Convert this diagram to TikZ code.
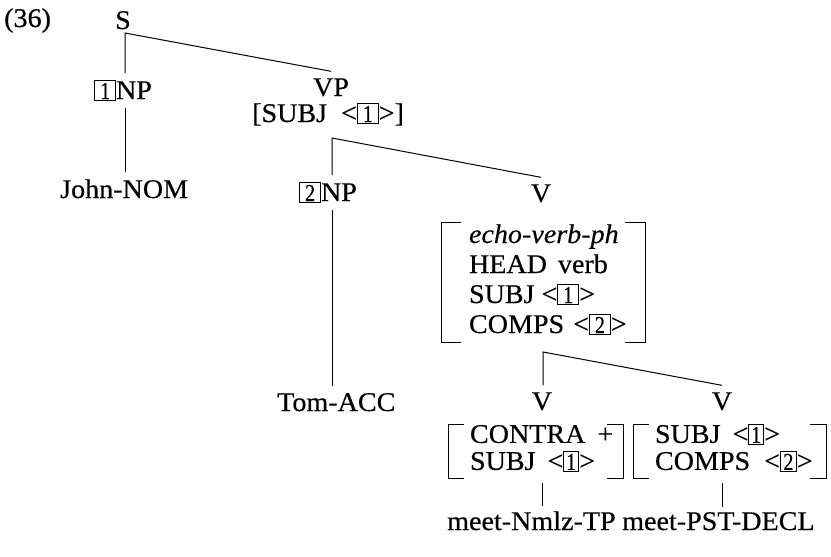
\documentclass[tikz,border=0pt]{standalone}
\usepackage{fontspec}
\setmainfont[FakeStretch=1.04,FakeBold=0.4]{Liberation Serif}
\usepackage{graphicx}
\usepackage{array}
\usetikzlibrary{calc}

% boxed structure-sharing tag
\newcommand{\tagbox}[2][20pt]{{\setlength{\fboxsep}{0pt}\setlength{\fboxrule}{0.9pt}%
  \raisebox{-1pt}{\fbox{\makebox[#1]{\rule{0pt}{19pt}\raisebox{1pt}{\scalebox{0.72}[0.9]{#2}}}}}}}

% square brackets around an attribute-value matrix node: node, left gap, arm length
\newcommand{\avmbrackets}[3]{%
  \draw[bracket] ([xshift={(#3-#2)*1pt}]#1.north west) -- ([xshift={-#2*1pt}]#1.north west)
    -- ([xshift={-#2*1pt}]#1.south west) -- ([xshift={(#3-#2)*1pt}]#1.south west);
  \draw[bracket] ([xshift={-#3*1pt}]#1.north east) -- (#1.north east)
    -- (#1.south east) -- ([xshift={-#3*1pt}]#1.south east);}

\begin{document}
\begin{tikzpicture}[x=1pt,y=-1pt,
  every node/.style={font=\fontsize{27}{30}\selectfont},
  cat/.style={inner sep=0pt, outer ysep=7pt, anchor=base},
  avm/.style={inner sep=0pt, outer sep=0pt, anchor=north west},
  branch/.style={line width=1pt},
  bracket/.style={line width=1pt}]
\useasboundingbox (0,0) rectangle (831,557);

% labels
\node[cat, anchor=base west] (num) at (4,27) {(36)};
\node[cat] (S) at (123,29) {S};
\node[cat, anchor=base west] (np1) at (94,99) {\tagbox{1}NP};
\node[cat, anchor=base west] (john) at (60,198) {John-NOM};
\node[cat] (vp) at (331,96) {VP};
\node[cat, anchor=base west] (vpf) at (252,122) {[SUBJ\hspace{14pt}<\tagbox{1}>]};
\node[cat, anchor=base west] (np2) at (299,201) {\tagbox{2}NP};
\node[cat] (v1) at (541,202) {V};
\node[cat, anchor=base west] (tom) at (277,411) {Tom-ACC};
\node[cat] (v2) at (542,410) {V};
\node[cat] (v3) at (722,410) {V};
\node[cat, anchor=base west] (meet1) at (447,530) {meet-Nmlz-TP};
\node[cat, anchor=base west] (meet2) at (622,530) {meet-PST-DECL};

% feature structures
\node[avm] (avm1) at (469,222) {\begin{tabular}{@{}p{176pt}@{}}
  \textit{echo-verb-ph}\\
  HEAD\hspace{11pt}verb\\
  SUBJ <\tagbox{1}>\\
  COMPS\hspace{9pt}<\tagbox{2}>
\end{tabular}};
\node[avm] (avm2) at (470,424) {\renewcommand{\arraystretch}{0.9}\begin{tabular}{@{}p{153pt}@{}}
  CONTRA\hspace{12pt}+\\
  SUBJ\hspace{12pt}<\tagbox[14pt]{1}>
\end{tabular}};
\node[avm] (avm3) at (655,424) {\renewcommand{\arraystretch}{0.9}\begin{tabular}{@{}p{171pt}@{}}
  SUBJ\hspace{12pt}<\tagbox[14pt]{1}>\\
  COMPS\hspace{14pt}<\tagbox[15pt]{2}>
\end{tabular}};
\avmbrackets{avm1}{28}{20}
\avmbrackets{avm2}{22}{16}
\avmbrackets{avm3}{22}{16}

% branch points
\coordinate (jS) at (125,33);
\coordinate (jVP) at (332,138);
\coordinate (jV1) at (543,352);

% branches
\draw[branch] (jS |- np1.north) -- (jS) -- (vp.north);
\draw[branch] (jS |- np1.south) -- (jS |- john.north);
\draw[branch] (jVP |- np2.north) -- (jVP) -- (v1.north);
\draw[branch] (jVP |- np2.south) -- (jVP |- tom.north);
\draw[branch] (jV1 |- v2.north) -- (jV1) -- (v3.north);
\draw[branch] ($(v2 |- avm2.south)+(0,5)$) -- ($(v2 |- meet1.north)+(0,2)$);
\draw[branch] ($(v3 |- avm3.south)+(0,5)$) -- ($(v3 |- meet2.north)+(0,2)$);
\end{tikzpicture}
\end{document}
